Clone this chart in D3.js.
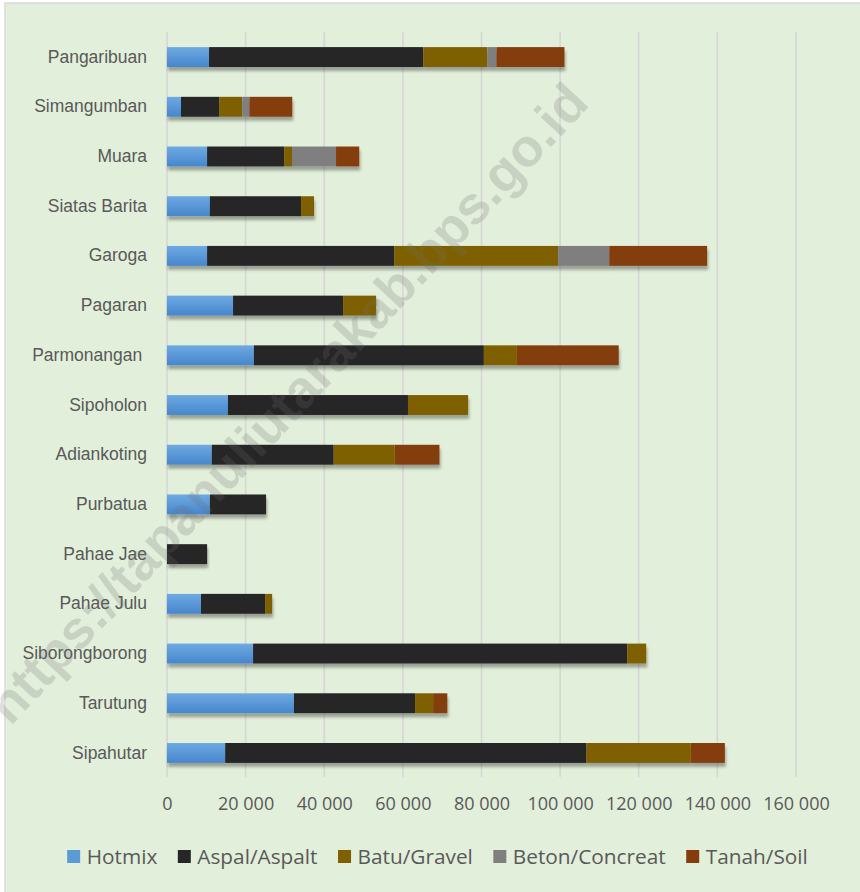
<!DOCTYPE html>
<html>
<head>
<meta charset="utf-8">
<script src="https://cdn.jsdelivr.net/npm/d3@7"></script>
<style>
  body { margin: 0; background: #fff; }
  svg { display: block; }
</style>
</head>
<body>
<svg id="chart" width="860" height="892"></svg>
<script>
// road length by surface type per district (km-ish units as in source)
const districts = ['Pangaribuan', 'Simangumban', 'Muara', 'Siatas Barita', 'Garoga', 'Pagaran',
  'Parmonangan ', 'Sipoholon', 'Adiankoting', 'Purbatua', 'Pahae Jae', 'Pahae Julu',
  'Siborongborong', 'Tarutung', 'Sipahutar'];

const hotmix = [10700, 3560, 10200, 10900, 10200, 16800, 22100, 15500, 11400, 10900, 0, 8650, 21900, 32300, 14800];
const aspal = [54500, 9700, 19600, 23200, 47600, 28000, 58500, 45800, 31000, 14300, 10200, 16300, 95200, 30800, 91900];
const batu = [16300, 5900, 2000, 3300, 41700, 8400, 8400, 15300, 15500, 0, 0, 1800, 4800, 4600, 26500];
const beton = [2300, 1800, 11200, 0, 13000, 0, 0, 0, 0, 0, 0, 0, 0, 0, 0];
const tanah = [17300, 10900, 5900, 0, 24900, 0, 25900, 0, 11400, 0, 0, 0, 0, 3600, 8700];

const seriesNames = ['Hotmix', 'Aspal/Aspalt', 'Batu/Gravel', 'Beton/Concreat', 'Tanah/Soil'];
const seriesColors = ['url(#hotmixGrad)', '#262626', '#7f6000', '#7f7f7f', '#843c0c'];
const legendColors = ['#5b9bd5', '#262626', '#7f6000', '#7f7f7f', '#843c0c'];
const xTicks = [0, 20000, 40000, 60000, 80000, 100000, 120000, 140000, 160000];

const keys = ['hotmix', 'aspal', 'batu', 'beton', 'tanah'];
const rows = districts.map((d, i) => ({
  name: d, hotmix: hotmix[i], aspal: aspal[i], batu: batu[i], beton: beton[i], tanah: tanah[i]
}));

const svg = d3.select('#chart');

// defs: gradient for hotmix and bar shadow
const defs = svg.append('defs');
const grad = defs.append('linearGradient').attr('id', 'hotmixGrad')
  .attr('x1', 0).attr('y1', 0).attr('x2', 0).attr('y2', 1);
grad.append('stop').attr('offset', '0%').attr('stop-color', '#6eaae2');
grad.append('stop').attr('offset', '100%').attr('stop-color', '#4686cc');

const shadow = defs.append('filter').attr('id', 'shadow')
  .attr('x', '-5%').attr('y', '-40%').attr('width', '110%').attr('height', '200%');
shadow.append('feDropShadow').attr('dx', 1).attr('dy', 4).attr('stdDeviation', 1.8)
  .attr('flood-color', '#000').attr('flood-opacity', 0.32);

// chart background
svg.append('rect').attr('x', 5).attr('y', 3).attr('width', 900).attr('height', 950)
  .attr('fill', '#e2efda').attr('stroke', '#d9d9d9').attr('stroke-width', 1.5);

const x = d3.scaleLinear().domain([0, 160000]).range([167, 796]);
const y = d3.scaleBand().domain(districts).range([32.2, 777.8])
  .paddingInner(0.6).paddingOuter(0.3);

// gridlines
svg.append('g').selectAll('line').data(xTicks).join('line')
  .attr('x1', d => x(d)).attr('x2', d => x(d))
  .attr('y1', 32).attr('y2', 777)
  .attr('stroke', '#d6d6d6').attr('stroke-width', 1.6);

// x axis labels
const fmt = d3.formatLocale({ decimal: '.', thousands: ' ', grouping: [3], currency: ['', ''] }).format(',');
const xAxis = svg.append('g').attr('transform', 'translate(0,795)')
  .call(d3.axisBottom(x).tickValues(xTicks).tickFormat(fmt).tickSize(0).tickPadding(0));
xAxis.select('.domain').remove();
xAxis.selectAll('text')
  .attr('y', 9).attr('dy', '0.35em')
  .attr('font-family', '"Open Sans", sans-serif').attr('font-size', 18).attr('fill', '#595959');

// y labels
const yAxis = svg.append('g').attr('transform', 'translate(147,0)')
  .call(d3.axisLeft(y).tickSize(0).tickPadding(0));
yAxis.select('.domain').remove();
yAxis.selectAll('text')
  .attr('xml:space', 'preserve').style('white-space', 'pre')
  .attr('font-family', '"Liberation Sans", Arial, sans-serif').attr('font-size', 17.5).attr('fill', '#595959');

// stacked bars
const stacked = d3.stack().keys(keys)(rows);
const barGroups = svg.append('g').selectAll('g.row').data(rows).join('g')
  .attr('class', 'row').attr('filter', 'url(#shadow)');

barGroups.each(function (row, i) {
  const g = d3.select(this);
  stacked.forEach((layer, k) => {
    const [a, b] = layer[i];
    if (b - a <= 0) return;
    g.append('rect')
      .attr('x', x(a)).attr('width', x(b) - x(a))
      .attr('y', y(row.name)).attr('height', y.bandwidth())
      .attr('fill', seriesColors[k]);
  });
});

// legend
const legend = svg.append('g');
const items = legend.selectAll('g').data(seriesNames).join('g');
items.append('rect').attr('width', 13).attr('height', 13).attr('y', -6.5)
  .attr('fill', (d, i) => legendColors[i]);
items.append('text').attr('x', 19.5).attr('dy', '0.35em').text(d => d)
  .attr('font-family', '"Open Sans", sans-serif').attr('font-size', 20.8).attr('fill', '#595959');
let cursor = 0;
const widths = [];
items.each(function () {
  const w = 19.5 + d3.select(this).select('text').node().getComputedTextLength();
  widths.push(w);
});
const gap = 20.5;
const total = d3.sum(widths) + gap * (widths.length - 1);
cursor = 437.5 - total / 2;
items.attr('transform', (d, i) => {
  const t = `translate(${cursor},856.5)`;
  cursor += widths[i] + gap;
  return t;
});

// watermark
svg.append('text')
  .attr('transform', 'translate(287,403) rotate(-47)')
  .attr('text-anchor', 'middle').attr('dy', '0.35em')
  .attr('font-family', '"Liberation Sans", Arial, sans-serif').attr('font-weight', 'bold')
  .attr('font-size', 53).attr('fill', '#6e6e6e').attr('fill-opacity', 0.22)
  .text('https://tapanuliutarakab.bps.go.id');
</script>
</body>
</html>
